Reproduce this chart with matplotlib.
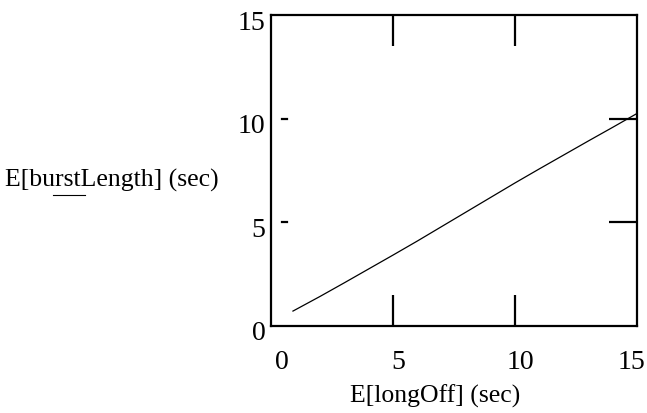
import matplotlib
matplotlib.use("Agg")
import matplotlib.pyplot as plt
from matplotlib.lines import Line2D
from matplotlib.transforms import ScaledTranslation

# Data
long_off = [0.9, 2, 3, 4, 5, 6, 7, 8, 9, 10, 11, 12, 13, 14, 15]
burst_len = [0.72, 1.42, 2.08, 2.75, 3.42, 4.1, 4.8, 5.5, 6.2, 6.9, 7.58, 8.25, 8.92, 9.58, 10.25]
xticks = [0, 5, 10, 15]
yticks = [0, 5, 10, 15]

plt.rcParams['font.family'] = ['Liberation Serif', 'DejaVu Serif']

fig = plt.figure(figsize=(6.47, 4.13), dpi=100)
W, H = 647, 413
left, right, top, bottom = 271, 637, 15, 326
ax = fig.add_axes([left / W, 1 - bottom / H, (right - left) / W, (bottom - top) / H])

ax.plot(long_off, burst_len, color='black', lw=0.9)
ax.set_xlim(0, 15)
ax.set_ylim(0, 15)
ax.set_xticks(xticks)
ax.set_yticks(yticks)
ax.set_xticklabels([str(t) for t in xticks])
ax.set_yticklabels([str(t) for t in yticks])

for s in ax.spines.values():
    s.set_linewidth(1.6)
    s.set_color('black')

ax.tick_params(axis='x', which='both', direction='in', length=22, width=1.6,
               top=True, bottom=True, labelsize=20, pad=17)
ax.tick_params(axis='y', which='both', direction='in', length=20, width=1.6,
               left=False, right=True, labelleft=True, labelsize=20, pad=4)

# hide tick marks that sit on the spines (0 and 15)
for axis in (ax.xaxis, ax.yaxis):
    ticks = axis.get_major_ticks()
    for t in (ticks[0], ticks[-1]):
        t.tick1line.set_visible(False)
        t.tick2line.set_visible(False)

# label offsets to match the reference placement (pixels)
x_offsets = [11, 5, 5, -6]
for lab, dx in zip(ax.get_xticklabels(), x_offsets):
    lab.set_transform(lab.get_transform() + ScaledTranslation(dx / 100, 0, fig.dpi_scale_trans))
for lab in ax.get_yticklabels():
    lab.set_transform(lab.get_transform() + ScaledTranslation(0, -5 / 100, fig.dpi_scale_trans))

# short detached left ticks
for yv in [5, 10]:
    ax.plot([0.45, 0.65], [yv, yv], color='black', lw=1.6, clip_on=False)

fig.text(5 / W, 1 - 180 / H, 'E[burstLength] (sec)', fontsize=18.5,
         ha='left', va='center')
# small underline mark below the y label
fig.add_artist(Line2D([53 / W, 85 / W], [1 - 195 / H, 1 - 195 / H],
                      transform=fig.transFigure, color='black', lw=0.8))
fig.text(435 / W, 1 - 396 / H, 'E[longOff] (sec)', fontsize=18.5,
         ha='center', va='center')

fig.savefig('out.png', dpi=100)
